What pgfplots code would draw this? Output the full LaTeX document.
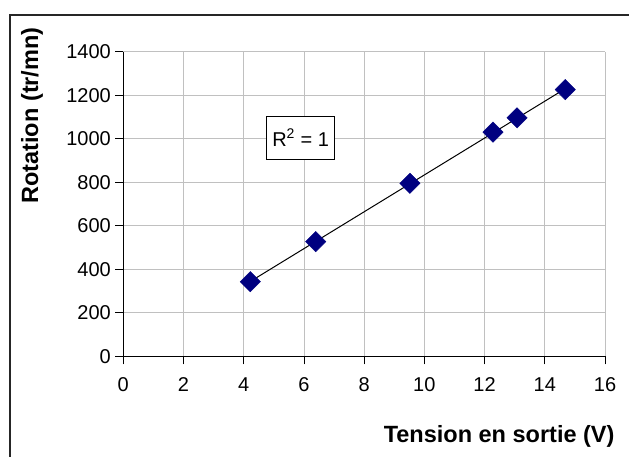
\documentclass[border=0pt]{standalone}
\usepackage{pgfplots}
\pgfplotsset{compat=1.18}
\usepackage{fontspec}
\setmainfont{Liberation Sans}
\definecolor{navymark}{RGB}{0,0,128}
\definecolor{gridgray}{RGB}{192,192,192}
\begin{document}
\begin{tikzpicture}
\useasboundingbox (-123.3pt,-100.7pt) rectangle (505.7pt,356.3pt);
\draw[line width=1.2pt, black!85] (-113.3pt,-100.7pt) -- (-113.3pt,341.3pt) -- (505.7pt,341.3pt);
\begin{axis}[
  at={(0pt,0pt)}, anchor=south west,
  scale only axis, width=481.7pt, height=304.6pt,
  xmin=0, xmax=16, ymin=0, ymax=1400,
  xtick={0,2,...,16}, ytick={0,200,...,1400},
  grid=major, major grid style={gridgray, line width=0.8pt},
  axis x line*=bottom, axis y line*=left,
  axis line style={black, line width=1pt, -},
  tick align=outside, major tick length=8pt,
  tick style={black, line width=0.8pt},
  tick label style={font=\fontsize{20}{24}\selectfont},
  xticklabel style={yshift=-10pt},
  yticklabel style={xshift=-1pt},
  /pgf/number format/assume math mode=true,
  /pgf/number format/set thousands separator={},
  clip=false,
]
\addplot[only marks, mark=square*, mark size=7.2pt,
  mark options={rotate=45, fill=navymark, draw=navymark}]
  coordinates {(4.22,343) (6.39,527) (9.52,795) (12.28,1030) (13.08,1096) (14.68,1226)};
\addplot[black, line width=1pt] coordinates {(4.22,344) (14.68,1230)};
\node[draw, line width=0.8pt, fill=white, minimum width=67.6pt, minimum height=43pt,
  font=\fontsize{20}{24}\selectfont] at (axis cs:5.89,1005) {R\textsuperscript{2} = 1};
\end{axis}
\node[anchor=base east, font=\fontsize{23.5}{28}\selectfont\bfseries] at (494.7pt,-86.7pt) {Tension en sortie (V)};
\node[rotate=90, anchor=center, font=\fontsize{23.5}{28}\selectfont\bfseries] at (-91.3pt,240.8pt) {Rotation (tr/mn)};
\end{tikzpicture}
\end{document}
